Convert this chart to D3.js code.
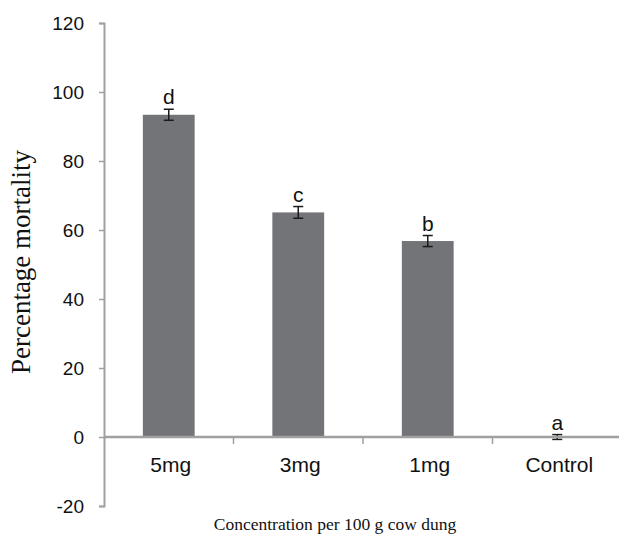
<!DOCTYPE html>
<html>
<head>
<meta charset="utf-8">
<script src="https://cdn.jsdelivr.net/npm/d3@7"></script>
<style>
  body { margin: 0; background: #fff; }
  svg { display: block; }
</style>
</head>
<body>
<div id="viz"></div>
<script>
var categories = ['5mg', '3mg', '1mg', 'Control'];
var mortality = [93.4, 65.1, 56.8, 0];
var errors = [1.6, 1.7, 1.6, 0.7];
var letters = ['d', 'c', 'b', 'a'];
var yTicks = [-20, 0, 20, 40, 60, 80, 100, 120];

var width = 619,
    height = 534,
    axisColor = '#a0a0a0',
    barColor = '#737477';

var svg = d3.select('#viz')
  .append('svg')
    .attr('width', width)
    .attr('height', height);

var yScale = d3.scaleLinear()
    .domain([-20, 120])
    .range([506, 23]);

var xScale = d3.scaleBand()
    .domain(categories)
    .range([104, 622])
    .paddingInner(0.6)
    .paddingOuter(0.3);

var step = xScale.step();

// y axis
var yAxis = svg.append('g')
    .attr('transform', 'translate(104,0)')
    .call(d3.axisLeft(yScale)
      .tickValues(yTicks)
      .tickFormat(function(d) { return String(d); })
      .tickSize(5)
      .tickPadding(15));
yAxis.select('.domain').attr('stroke', axisColor).attr('stroke-width', 2);
yAxis.selectAll('.tick line').attr('stroke', axisColor).attr('stroke-width', 1.5);
yAxis.selectAll('.tick text')
    .attr('fill', '#111')
    .style('font-family', 'Liberation Sans, Arial, sans-serif')
    .style('font-size', '19px');

// bars
svg.selectAll('rect.bar')
  .data(mortality)
  .enter().append('rect')
    .attr('class', 'bar')
    .attr('x', function(d, i) { return xScale(categories[i]); })
    .attr('width', xScale.bandwidth())
    .attr('y', function(d) { return yScale(Math.max(d, 0)); })
    .attr('height', function(d) { return Math.abs(yScale(d) - yScale(0)); })
    .style('fill', barColor);

// error bars
var errG = svg.selectAll('g.err')
  .data(mortality)
  .enter().append('g')
    .attr('class', 'err')
    .attr('transform', function(d, i) {
      return 'translate(' + (xScale(categories[i]) + xScale.bandwidth() / 2) + ',0)';
    });

errG.append('line')
    .attr('y1', function(d, i) { return yScale(d + errors[i]); })
    .attr('y2', function(d, i) { return yScale(d - errors[i]); })
    .attr('stroke', '#1a1a1a').attr('stroke-width', 1.5);
errG.append('line')
    .attr('x1', -5).attr('x2', 5)
    .attr('y1', function(d, i) { return yScale(d + errors[i]); })
    .attr('y2', function(d, i) { return yScale(d + errors[i]); })
    .attr('stroke', '#1a1a1a').attr('stroke-width', 1.5);
errG.append('line')
    .attr('x1', -5).attr('x2', 5)
    .attr('y1', function(d, i) { return yScale(d - errors[i]); })
    .attr('y2', function(d, i) { return yScale(d - errors[i]); })
    .attr('stroke', '#1a1a1a').attr('stroke-width', 1.5);

// significance letters
errG.append('text')
    .attr('y', function(d, i) { return yScale(d + errors[i]) - 5; })
    .attr('text-anchor', 'middle')
    .style('font-family', 'Liberation Sans, Arial, sans-serif')
    .style('font-size', '21px')
    .attr('fill', '#111')
    .text(function(d, i) { return letters[i]; });

// x axis line (over the error bars) and tick marks between categories
svg.append('line')
    .attr('x1', 104).attr('x2', width)
    .attr('y1', yScale(0)).attr('y2', yScale(0))
    .attr('stroke', axisColor).attr('stroke-width', 2.5);

svg.selectAll('line.xtick')
  .data(categories.slice(1))
  .enter().append('line')
    .attr('class', 'xtick')
    .attr('x1', function(d) { return xScale(d) - step * 0.3; })
    .attr('x2', function(d) { return xScale(d) - step * 0.3; })
    .attr('y1', yScale(0))
    .attr('y2', yScale(0) + 7)
    .attr('stroke', axisColor).attr('stroke-width', 1.5);

// category labels
svg.selectAll('text.cat')
  .data(categories)
  .enter().append('text')
    .attr('class', 'cat')
    .attr('x', function(d) { return xScale(d) + xScale.bandwidth() / 2 + 2; })
    .attr('y', 472)
    .attr('text-anchor', 'middle')
    .style('font-family', 'Liberation Sans, Arial, sans-serif')
    .style('font-size', '21px')
    .attr('fill', '#111')
    .text(function(d) { return d; });

// axis titles
svg.append('text')
    .attr('x', 335)
    .attr('y', 530)
    .attr('text-anchor', 'middle')
    .style('font-family', 'Liberation Serif, Times New Roman, serif')
    .style('font-size', '17.5px')
    .attr('fill', '#111')
    .text('Concentration per 100 g cow dung');

svg.append('text')
    .attr('transform', 'translate(30,262) rotate(-90)')
    .attr('text-anchor', 'middle')
    .style('font-family', 'Liberation Serif, Times New Roman, serif')
    .style('font-size', '27px')
    .attr('fill', '#111')
    .text('Percentage mortality');
</script>
</body>
</html>
